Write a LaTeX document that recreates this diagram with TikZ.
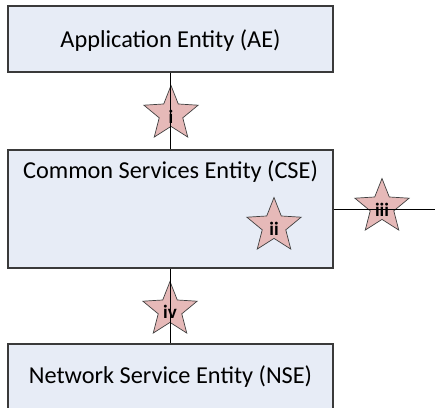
\documentclass[tikz,border=0pt]{standalone}
\usepackage{fontspec}
\setmainfont{Carlito}
\usetikzlibrary{shapes.geometric}
\definecolor{boxfill}{HTML}{E7ECF6}
\definecolor{boxline}{HTML}{3A3A3A}
\definecolor{starfill}{HTML}{E6B9B8}
\definecolor{starline}{HTML}{404040}
\begin{document}
\begin{tikzpicture}[x=1pt,y=-1pt,
  entity/.style={draw=boxline,fill=boxfill,line width=1.3pt},
  refstar/.style={star,star points=5,star point ratio=2.3,minimum size=57pt,inner sep=0pt,draw=starline,line width=0.7pt,fill=starfill,shape border rotate=0},
  reflabel/.style={font=\fontsize{19}{21}\selectfont\bfseries,inner sep=0pt},
  etext/.style={font=\fontsize{24.3}{28}\selectfont,inner sep=0pt},
  link/.style={draw=black,line width=0.9pt}]
\useasboundingbox (0,0) rectangle (435,407);
\clip (0,0) rectangle (435,407);
% boxes
\node[entity,minimum width=325pt,minimum height=66pt,inner sep=0pt] (ae) at (170.5,39) {};
\node[etext] (aet) at (170.5,41) {Application Entity (AE)};
\node[entity,minimum width=325pt,minimum height=118pt,inner sep=0pt] (cse) at (170.5,209) {};
\node[etext] (cset) at (170.5,172) {Common Services Entity (CSE)};
\node[entity,minimum width=325pt,minimum height=100pt,inner sep=0pt] (nse) at (170.5,394) {};
\node[etext] (nset) at (170.5,377) {Network Service Entity (NSE)};
% stars
\node[refstar] (si) at (171,114) {};
\node[refstar] (sii) at (274,226) {};
\node[refstar] (siii) at (382,207) {};
\node[refstar] (siv) at (170,310) {};
% connectors
\coordinate (rend) at (436,209);
\draw[link] (ae.south) -- (cse.north);
\draw[link] (cse.south) -- (nse.north);
\draw[link] (cse.east |- rend) -- (rend);
% labels
\node[reflabel] (li) at (171,117) {i};
\node[reflabel] (lii) at (274,229) {ii};
\node[reflabel] (liii) at (382,210) {iii};
\node[reflabel] (liv) at (170,312) {iv};
\end{tikzpicture}
\end{document}
